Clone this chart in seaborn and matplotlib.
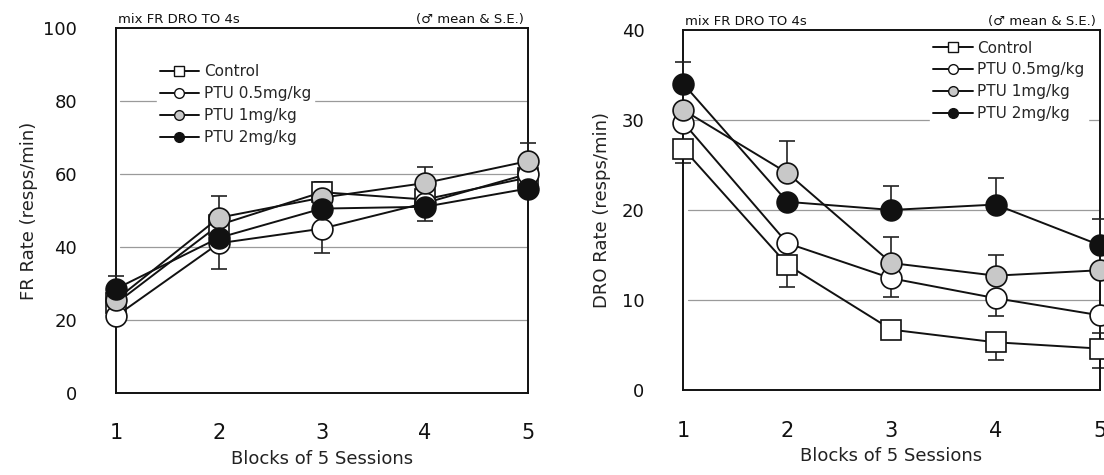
import numpy as np
import pandas as pd
import matplotlib
matplotlib.use("Agg")
import matplotlib.pyplot as plt
import seaborn as sns

# ---------------- data ----------------
blocks = [1, 2, 3, 4, 5]
series = ["Control", "PTU 0.5mg/kg", "PTU 1mg/kg", "PTU 2mg/kg"]

fr_control = [24.5, 46.0, 55.0, 53.0, 59.0]
fr_ptu05 = [21.0, 41.0, 45.0, 52.0, 60.0]
fr_ptu1 = [25.5, 48.0, 53.5, 57.5, 63.5]
fr_ptu2 = [28.5, 42.5, 50.5, 51.0, 56.0]

# one-sided S.E. extents visible in the figure (upper, lower)
fr_se_up = {"Control": [0, 0, 2.7, 0, 0], "PTU 0.5mg/kg": [0, 0, 0, 0, 0],
            "PTU 1mg/kg": [0, 6.0, 0, 4.3, 5.0], "PTU 2mg/kg": [3.5, 0, 0, 0, 0]}
fr_se_lo = {"Control": [0, 0, 0, 0, 0], "PTU 0.5mg/kg": [0, 7.0, 6.6, 0, 0],
            "PTU 1mg/kg": [0, 0, 0, 0, 0], "PTU 2mg/kg": [0, 0, 0, 3.8, 0]}

dro_control = [26.8, 13.9, 6.7, 5.3, 4.6]
dro_ptu05 = [29.7, 16.3, 12.4, 10.2, 8.3]
dro_ptu1 = [31.1, 24.1, 14.1, 12.7, 13.3]
dro_ptu2 = [34.0, 20.9, 20.0, 20.6, 16.1]

dro_se_up = {"Control": [0, 0, 0, 0, 0], "PTU 0.5mg/kg": [0, 0, 0, 0, 0],
             "PTU 1mg/kg": [0, 3.6, 2.9, 2.3, 0], "PTU 2mg/kg": [2.4, 0, 2.7, 2.9, 2.9]}
dro_se_lo = {"Control": [1.6, 2.5, 0, 2.0, 2.2], "PTU 0.5mg/kg": [0, 0, 2.1, 2.0, 2.0],
             "PTU 1mg/kg": [0, 0, 0, 0, 0], "PTU 2mg/kg": [0, 0, 0, 0, 0]}

fr_ticks = [0, 20, 40, 60, 80, 100]
dro_ticks = [0, 10, 20, 30, 40]

# ---------------- style ----------------
sns.set_theme(style="white")
plt.rcParams["font.family"] = ["DejaVu Sans"]

markers = {"Control": "s", "PTU 0.5mg/kg": "o", "PTU 1mg/kg": "o", "PTU 2mg/kg": "o"}
faces = {"Control": "white", "PTU 0.5mg/kg": "white", "PTU 1mg/kg": "#c8c8c8", "PTU 2mg/kg": "#111111"}
msize = {"Control": 14, "PTU 0.5mg/kg": 15, "PTU 1mg/kg": 15, "PTU 2mg/kg": 15}
zorders = {"Control": 3, "PTU 0.5mg/kg": 4, "PTU 1mg/kg": 5, "PTU 2mg/kg": 6}

fig = plt.figure(figsize=(11.04, 4.75), dpi=100)
ax1 = fig.add_axes([0.105, 0.173, 0.373, 0.768])
ax2 = fig.add_axes([0.619, 0.179, 0.377, 0.758])


def draw(ax, vals, se_up, se_lo, ticks, ylabel, legend_anchor, legend_loc, lab_pad):
    df = pd.DataFrame({"block": np.tile(blocks, len(series)),
                       "value": np.concatenate([vals[s] for s in series]),
                       "group": np.repeat(series, len(blocks))})
    for s in series:
        sub = df[df.group == s]
        ax.errorbar(sub.block, sub.value, yerr=[se_lo[s], se_up[s]], fmt="none",
                    ecolor="#222222", elinewidth=1.2, capsize=6, capthick=1.2,
                    zorder=zorders[s] - 0.5, clip_on=False)
        sns.lineplot(data=sub, x="block", y="value", ax=ax, color="#111111",
                     marker=markers[s], markersize=msize[s], markerfacecolor=faces[s],
                     markeredgecolor="#111111", markeredgewidth=1.2, linewidth=1.4,
                     label=s, zorder=zorders[s], clip_on=False)
    ax.set_xlim(1, 5)
    ax.set_ylim(ticks[0], ticks[-1])
    ax.set_yticks(ticks)
    ax.set_xticks(blocks)
    for t in ticks[1:-1]:
        ax.axhline(t, xmin=0.01, xmax=1.0, color="#9a9a9a", linewidth=0.9, zorder=0)
    for sp in ax.spines.values():
        sp.set_color("#111111")
        sp.set_linewidth(1.4)
    ax.tick_params(axis="y", direction="in", length=7, width=1.0, pad=28,
                   labelsize=13, colors="#111111")
    ax.tick_params(axis="x", direction="in", length=7, width=1.0, pad=22,
                   labelsize=15, colors="#111111")
    for lab in ax.get_xticklabels():
        lab.set_family(["Liberation Sans Narrow", "DejaVu Sans"])
    ax.set_xlabel("Blocks of 5 Sessions", fontsize=13, labelpad=5, color="#222222")
    ax.set_ylabel(ylabel, fontsize=13, labelpad=lab_pad, color="#222222")
    ax.text(0.005, 1.005, "mix FR DRO TO 4s", transform=ax.transAxes, fontsize=9.5,
            va="bottom", ha="left", color="#111111")
    ax.text(0.99, 1.005, "(\u2642 mean & S.E.)", transform=ax.transAxes, fontsize=9.5,
            va="bottom", ha="right", color="#111111")
    leg = ax.legend(loc=legend_loc, bbox_to_anchor=legend_anchor, frameon=True,
                    fontsize=11, handlelength=2.6, handletextpad=0.3,
                    labelspacing=0.45, borderpad=0.2)
    leg.get_frame().set_edgecolor("white")
    leg.get_frame().set_facecolor("white")
    leg.get_frame().set_alpha(1.0)
    leg.set_zorder(10)
    for h in leg.legend_handles:
        h.set_markersize(7)
        h.set_markeredgewidth(1.0)


draw(ax1,
     {"Control": fr_control, "PTU 0.5mg/kg": fr_ptu05, "PTU 1mg/kg": fr_ptu1, "PTU 2mg/kg": fr_ptu2},
     fr_se_up, fr_se_lo, fr_ticks, "FR Rate (resps/min)", (0.08, 0.93), "upper left", 4)
draw(ax2,
     {"Control": dro_control, "PTU 0.5mg/kg": dro_ptu05, "PTU 1mg/kg": dro_ptu1, "PTU 2mg/kg": dro_ptu2},
     dro_se_up, dro_se_lo, dro_ticks, "DRO Rate (resps/min)", (0.99, 1.0), "upper right", 8)

fig.savefig("out.png", dpi=100, facecolor="white")
